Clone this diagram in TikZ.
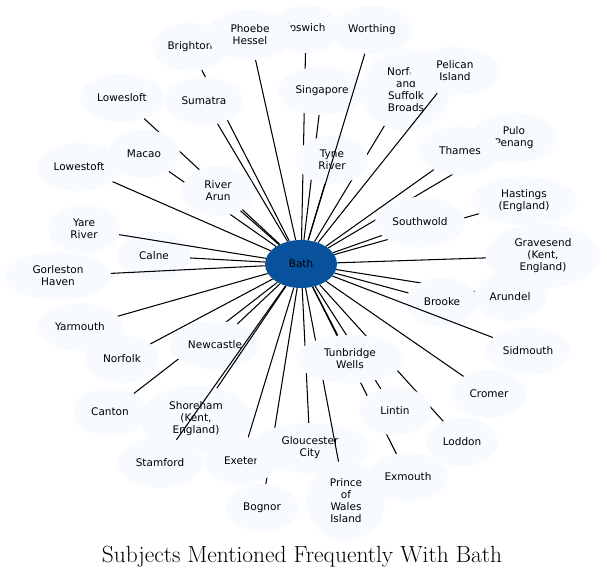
\documentclass[tikz,border=0pt]{standalone}
\usepackage{fontspec}
\newfontfamily\nodefont{DejaVu Sans}
\usetikzlibrary{shapes.geometric}
\definecolor{nodefill}{HTML}{F7FBFF}
\definecolor{bathfill}{HTML}{08519C}
\tikzset{
  cityn/.style={ellipse, fill=nodefill, inner sep=0pt, align=center,
    font=\nodefont\fontsize{10.5}{12}\selectfont},
  hubn/.style={cityn, fill=bathfill},
  edgeln/.style={draw=black, line width=1.05pt},
}
\newcommand{\citynode}[6]{%
  \node[cityn, minimum width=#4pt, minimum height=#5pt] (#1) at (#2,#3) {#6};
  \draw[edgeln] (bath) -- (#1);}
\begin{document}
\begin{tikzpicture}[x=1pt,y=-1pt]
\fill[white] (0,0) rectangle (607,580);
\useasboundingbox (0,0) rectangle (607,580);
\node[hubn, minimum width=72pt, minimum height=48pt] (bath) at (301,264) {Bath};
\citynode{brighton}{190}{47}{76}{48}{Brighton}
\citynode{ipswich}{306}{29}{66}{48}{Ipswich}
\citynode{sumatra}{204}{101}{78}{48}{Sumatra}
\citynode{phoebe}{250}{35}{86}{50}{Phoebe\\Hessel}
\citynode{singapore}{322}{91}{88}{48}{Singapore}
\citynode{broads}{406}{90}{88}{82}{Norfolk\\and\\Suffolk\\Broads}
\citynode{tyne}{332}{160}{72}{48}{Tyne\\River}
\citynode{worthing}{372}{30}{80}{48}{Worthing}
\citynode{pelican}{455}{71}{90}{48}{Pelican\\Island}
\citynode{pulo}{514}{138}{84}{50}{Pulo\\Penang}
\citynode{hastings}{524}{201}{106}{48}{Hastings\\(England)}
\citynode{southwold}{420}{222}{90}{50}{Southwold}
\citynode{thames}{460}{151}{82}{48}{Thames}
\citynode{gravesend}{543}{256}{114}{64}{Gravesend\\(Kent,\\England)}
\citynode{arundel}{510}{297}{72}{48}{Arundel}
\citynode{brooke}{442}{302}{72}{48}{Brooke}
\citynode{sidmouth}{528}{351}{84}{48}{Sidmouth}
\citynode{cromer}{489}{394}{74}{48}{Cromer}
\citynode{loddon}{462}{442}{72}{48}{Loddon}
\citynode{exmouth}{408}{477}{80}{48}{Exmouth}
\citynode{lintin}{395}{411}{72}{48}{Lintin}
\citynode{bognor}{262}{508}{72}{48}{Bognor}
\citynode{exeter}{241}{461}{72}{48}{Exeter}
\citynode{gloucester}{310}{448}{118}{50}{Gloucester\\City}
\citynode{prince}{346}{501}{78}{80}{Prince\\of\\Wales\\Island}
\citynode{tunbridge}{350}{359}{108}{48}{Tunbridge\\Wells}
\citynode{canton}{110}{412}{74}{48}{Canton}
\citynode{newcastle}{215}{345}{90}{48}{Newcastle}
\citynode{shoreham}{196}{419}{112}{66}{Shoreham\\(Kent,\\England)}
\citynode{stamford}{160}{463}{84}{50}{Stamford}
\citynode{norfolk}{122}{359}{72}{48}{Norfolk}
\citynode{yarmouth}{80}{327}{84}{48}{Yarmouth}
\citynode{calne}{154}{256}{72}{48}{Calne}
\citynode{gorleston}{58}{276}{106}{48}{Gorleston\\Haven}
\citynode{yare}{84}{229}{72}{48}{Yare\\River}
\citynode{lowestoft}{79}{167}{84}{48}{Lowestoft}
\citynode{lowesloft}{122}{98}{84}{48}{Lowesloft}
\citynode{macao}{144}{154}{72}{48}{Macao}
\citynode{arun}{218}{191}{72}{50}{River\\Arun}
\node[inner sep=0pt, font=\fontsize{23.4}{27}\selectfont] (title) at (302,557) {Subjects Mentioned Frequently With Bath};
\end{tikzpicture}
\end{document}
